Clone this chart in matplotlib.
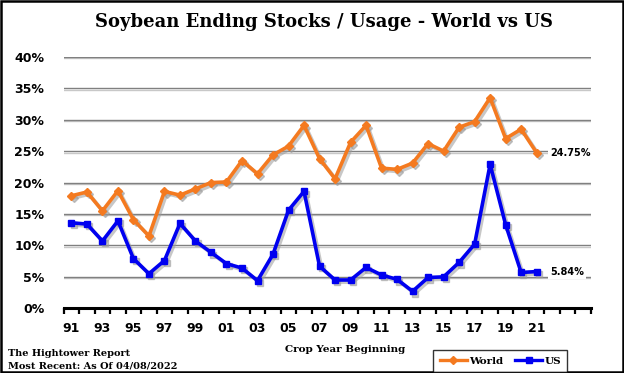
import matplotlib
matplotlib.use("Agg")
import matplotlib.pyplot as plt
import matplotlib.transforms as mtransforms
from matplotlib.lines import Line2D
from matplotlib.patches import Rectangle

years = list(range(1991, 2022))
world = [17.9, 18.5, 15.5, 18.7, 14.1, 11.5, 18.6, 18.0, 19.0, 20.0, 20.1, 23.5, 21.4,
         24.4, 25.8, 29.1, 23.8, 20.6, 26.4, 29.1, 22.3, 22.1, 23.1, 26.2, 25.0, 28.8,
         29.7, 33.5, 27.0, 28.5, 24.75]
us = [13.6, 13.4, 10.7, 13.9, 7.9, 5.5, 7.6, 13.5, 10.7, 8.9, 7.1, 6.4, 4.4,
      8.6, 15.6, 18.6, 6.7, 4.5, 4.5, 6.5, 5.3, 4.6, 2.7, 4.9, 5.0, 7.3,
      10.2, 22.9, 13.3, 5.7, 5.84]
n_categories = 34
tick_labels = [f"{y % 100:02d}" for y in years[::2]]
yticks = list(range(0, 45, 5))

ORANGE = "#F47A20"
BLUE = "#0000F0"
SERIF = ["DejaVu Serif"]
SANS = ["DejaVu Sans"]

fig = plt.figure(figsize=(6.24, 3.73), dpi=100)
ax = fig.add_axes([0.102, 0.1735, 0.845, 0.674])

x = list(range(len(years)))
shadow_tr = mtransforms.offset_copy(ax.transData, fig=fig, x=1.6, y=-1.6, units="points")
ytr = ax.get_yaxis_transform()
grid_shadow_tr = mtransforms.offset_copy(ytr, fig=fig, x=0.0, y=-1.0, units="points")

for v in yticks[1:]:
    ax.plot([0, 1], [v, v], color="#c8c8c8", lw=1.0, zorder=1, transform=grid_shadow_tr)
    ax.plot([0, 1], [v, v], color="#808080", lw=1.0, zorder=1.1, transform=ytr)

for data, col, mk, ms in [(world, ORANGE, "D", 4.5), (us, BLUE, "s", 5)]:
    ax.plot(x, data, color="#9a9a9a", lw=2.6, marker=mk, ms=ms, mec="#9a9a9a", mfc="#9a9a9a",
            alpha=0.55, zorder=2, transform=shadow_tr)
    ax.plot(x, data, color=col, lw=2.6, marker=mk, ms=ms, mec=col, mfc=col, zorder=3)

ax.set_xlim(-0.5, n_categories - 0.5)
ax.set_ylim(0, 40)
ax.set_yticks(yticks)
ax.set_yticklabels([f"{v}%" for v in yticks], fontfamily=SANS, fontweight="bold", fontsize=9)
ax.set_xticks(x[::2])
ax.set_xticklabels(tick_labels, fontfamily=SANS, fontweight="bold", fontsize=9)
ax.set_xticks([i - 0.5 for i in range(n_categories + 1)], minor=True)
ax.tick_params(axis="x", which="major", length=0, pad=10)
ax.tick_params(axis="x", which="minor", length=4, width=1.6, direction="out", color="black")
ax.tick_params(axis="y", length=0, pad=14)
for s in ["top", "right", "left"]:
    ax.spines[s].set_visible(False)
ax.spines["bottom"].set_linewidth(2.2)
ax.spines["bottom"].set_zorder(4)

bbox = dict(facecolor="white", edgecolor="none", pad=1.5)
ax.text(x[-1] + 0.85, world[-1], f"{world[-1]:.2f}%", fontfamily=SANS, fontweight="bold",
        fontsize=7, va="center", ha="left", bbox=bbox, zorder=5)
ax.text(x[-1] + 0.85, us[-1], f"{us[-1]:.2f}%", fontfamily=SANS, fontweight="bold",
        fontsize=7, va="center", ha="left", bbox=bbox, zorder=5)

fig.text(0.52, 0.94, "Soybean Ending Stocks / Usage - World vs US", fontfamily=SERIF,
         fontweight="bold", fontsize=13, ha="center", va="center")
fig.text(0.553, 0.064, "Crop Year Beginning", fontfamily=SERIF, fontweight="bold",
         fontsize=7.5, ha="center", va="center")
fig.text(0.013, 0.053, "The Hightower Report", fontfamily=SERIF, fontweight="bold",
         fontsize=7, ha="left", va="center")
fig.text(0.013, 0.018, "Most Recent: As Of 04/08/2022", fontfamily=SERIF, fontweight="bold",
         fontsize=7, ha="left", va="center")

handles = [Line2D([], [], color=ORANGE, lw=2.4, marker="D", ms=4),
           Line2D([], [], color=BLUE, lw=2.4, marker="s", ms=4)]
leg = fig.legend(handles, ["World", "US"], loc="lower left", bbox_to_anchor=(0.686, -0.012),
                 ncol=2, frameon=True, fancybox=False, edgecolor="black", handlelength=2.6,
                 handletextpad=0.2, columnspacing=1.2, borderpad=0.6,
                 prop=dict(family=SERIF, weight="bold", size=7.5))
leg.get_frame().set_linewidth(1.0)

fig.patches.append(Rectangle((0.002, 0.003), 0.996, 0.994, transform=fig.transFigure,
                             fill=False, edgecolor="black", lw=1.8))

fig.savefig("out.png", dpi=100)
